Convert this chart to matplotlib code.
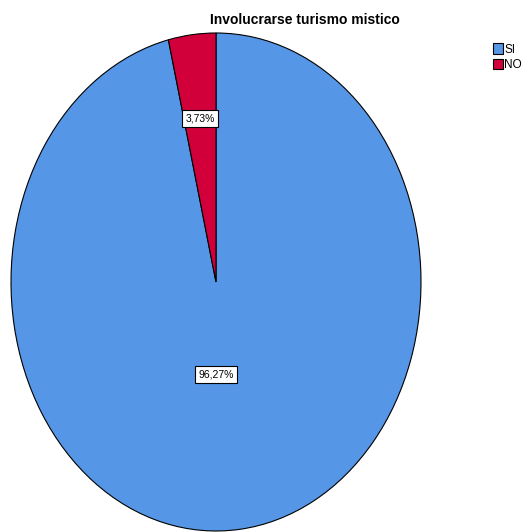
import matplotlib.pyplot as plt
from matplotlib.patches import Patch

# data
categories = ["SI", "NO"]
percentages = [96.27, 3.73]
colors = ["#5596E6", "#D2003A"]
title = "Involucrarse turismo mistico"

plt.rcParams['font.family'] = ['Liberation Sans', 'DejaVu Sans']

fig = plt.figure(figsize=(5.25, 5.32), dpi=100)
W, H = 525, 532
# pie drawn as an ellipse stretched vertically (SPSS-style)
ax = fig.add_axes([11 / W, 1 / H, 410 / W, 498 / H])

wedges, texts, autotexts = ax.pie(
    percentages,
    colors=colors,
    startangle=90,
    counterclock=False,
    autopct=lambda p: f"{p:.2f}%".replace(".", ","),
    pctdistance=0.66,
    wedgeprops=dict(edgecolor="black", linewidth=0.8),
    textprops=dict(fontsize=7.5, color="black"),
)
ax.set_aspect("auto")
ax.set_xlim(-1, 1)
ax.set_ylim(-1, 1)
ax.axis("off")

autotexts[0].set_position((0.0, -0.37))
for t in autotexts:
    t.set_bbox(dict(facecolor="white", edgecolor="black", linewidth=0.8, pad=2.5))

fig.text(305 / W, 1 - 20 / H, title, ha="center", va="center",
         fontsize=10, fontweight="bold")

handles = [Patch(facecolor=c, edgecolor="black", linewidth=0.8) for c in colors]
fig.legend(handles, categories, loc="upper left",
           bbox_to_anchor=(485 / W, 1 - 35 / H), frameon=False,
           fontsize=8.5, handlelength=0.85, handleheight=1.0,
           handletextpad=0.1, labelspacing=0.25, borderpad=0.2)

fig.savefig("out.png", dpi=100)
